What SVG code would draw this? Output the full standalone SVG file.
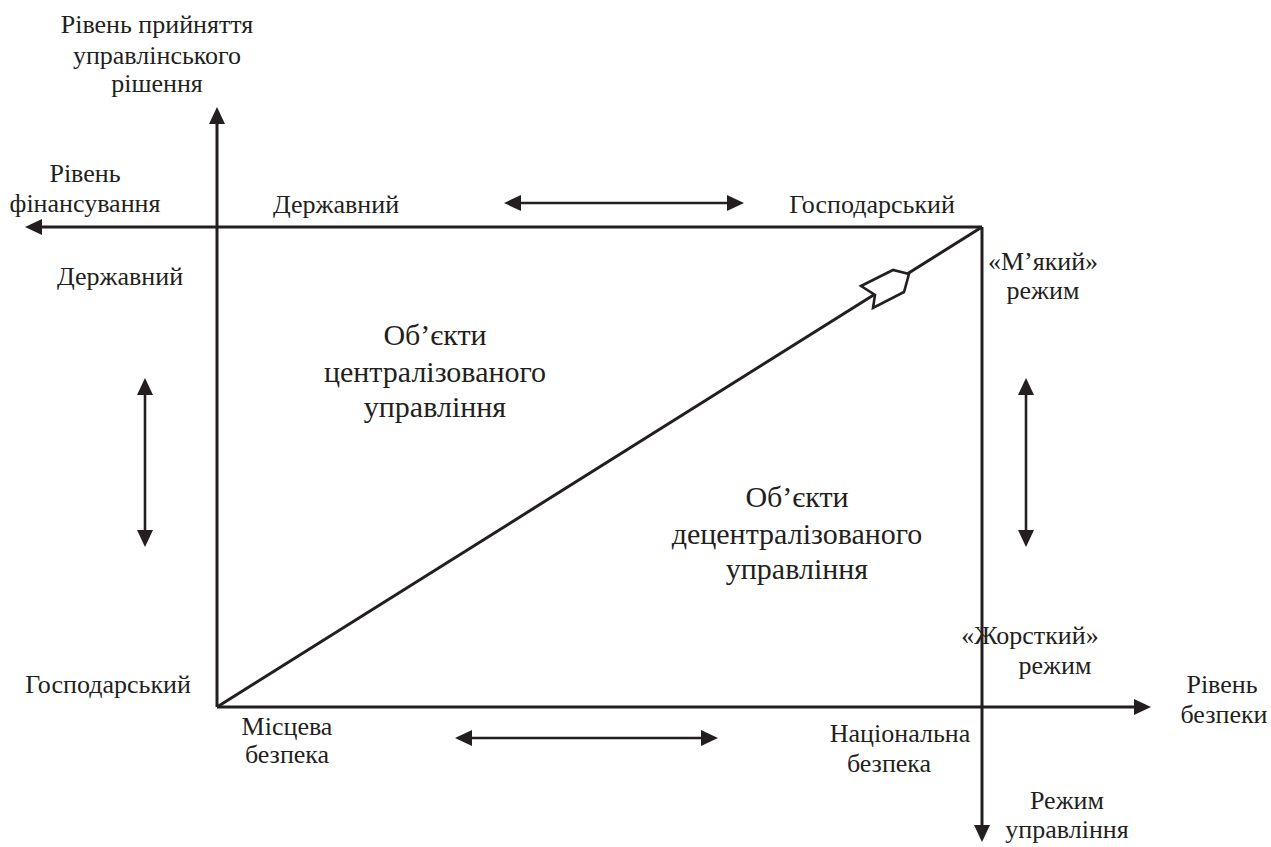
<svg xmlns="http://www.w3.org/2000/svg" width="1271" height="847" viewBox="0 0 1271 847">
<style>
text{font-family:"Liberation Serif","Times New Roman",serif;fill:#231f20;text-anchor:middle}
.l{font-size:26px}
.c{font-size:30px}
.ax{stroke:#231f20;stroke-width:3;fill:none}
.dbl{stroke:#231f20;stroke-width:2.6;fill:none}
</style>
<defs>
<marker id="ah" markerUnits="userSpaceOnUse" markerWidth="18" markerHeight="18" refX="11" refY="8" orient="auto-start-reverse" viewBox="0 0 18 18">
<path d="M0,0 L17,8 L0,16 z" fill="#231f20"/>
</marker>
</defs>
<rect width="1271" height="847" fill="#fff"/>
<g id="connectors">
<line class="ax" x1="217" y1="707" x2="217" y2="113" marker-end="url(#ah)"/>
<line class="ax" x1="982" y1="227" x2="31" y2="227" marker-end="url(#ah)"/>
<line class="ax" x1="217" y1="707" x2="1145" y2="707" marker-end="url(#ah)"/>
<line class="ax" x1="982" y1="227" x2="982" y2="836" marker-end="url(#ah)"/>
<line class="ax" stroke-width="2.6" x1="217" y1="707" x2="982" y2="227"/>
<polygon points="861,286 893,270 909,274 904,292 873,308 875,295" fill="#fff" stroke="#231f20" stroke-width="2.6" stroke-linejoin="miter"/>
<line class="dbl" x1="510" y1="203" x2="738" y2="203" marker-start="url(#ah)" marker-end="url(#ah)"/>
<line class="dbl" x1="461" y1="738" x2="712" y2="738" marker-start="url(#ah)" marker-end="url(#ah)"/>
<line class="dbl" x1="145" y1="384" x2="145" y2="541" marker-start="url(#ah)" marker-end="url(#ah)"/>
<line class="dbl" x1="1026" y1="384" x2="1026" y2="541" marker-start="url(#ah)" marker-end="url(#ah)"/>
</g>
<g id="axis-decision">
<text class="l" x="157" y="33">Рівень прийняття</text>
<text class="l" x="157" y="64">управлінського</text>
<text class="l" x="157" y="92">рішення</text>
</g>
<g id="axis-financing">
<text class="l" x="85" y="182">Рівень</text>
<text class="l" x="85" y="212">фінансування</text>
</g>
<g id="top-state"><text class="l" x="336" y="213">Державний</text></g>
<g id="top-economic"><text class="l" x="872" y="213">Господарський</text></g>
<g id="left-state"><text class="l" x="120" y="285">Державний</text></g>
<g id="left-economic"><text class="l" x="108" y="693">Господарський</text></g>
<g id="soft-mode">
<text class="l" x="1043" y="270">«М’який»</text>
<text class="l" x="1043" y="299">режим</text>
</g>
<g id="hard-mode">
<text class="l" x="1030" y="644">«Жорсткий»</text>
<text class="l" x="1055" y="674">режим</text>
</g>
<g id="centralized">
<text class="c" x="435" y="345">Об’єкти</text>
<text class="c" x="435" y="382">централізованого</text>
<text class="c" x="435" y="417">управління</text>
</g>
<g id="decentralized">
<text class="c" x="797" y="507">Об’єкти</text>
<text class="c" x="797" y="544">децентралізованого</text>
<text class="c" x="797" y="579">управління</text>
</g>
<g id="local-security">
<text class="l" x="287" y="735">Місцева</text>
<text class="l" x="287" y="763">безпека</text>
</g>
<g id="national-security">
<text class="l" x="900" y="742">Національна</text>
<text class="l" x="889" y="772">безпека</text>
</g>
<g id="axis-security">
<text class="l" x="1222" y="693">Рівень</text>
<text class="l" x="1224" y="723">безпеки</text>
</g>
<g id="axis-mode">
<text class="l" x="1067" y="809">Режим</text>
<text class="l" x="1067" y="838">управління</text>
</g>
</svg>
